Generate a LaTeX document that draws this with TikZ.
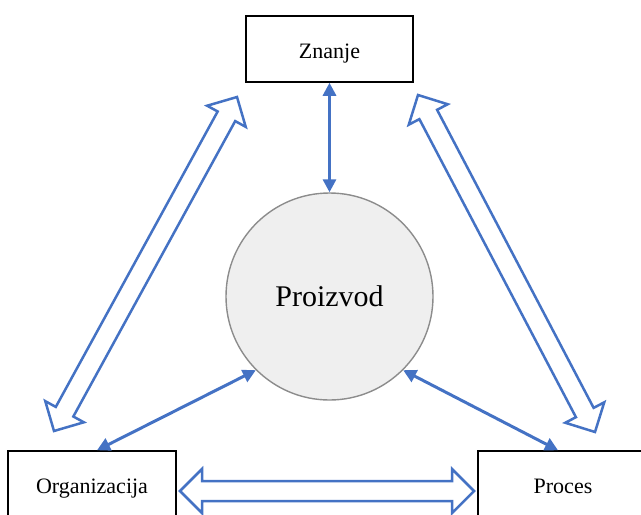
\documentclass[tikz,border=0pt]{standalone}
\usepackage{fontspec}
\setmainfont{Liberation Serif}
\usetikzlibrary{calc,arrows.meta}
\definecolor{ablue}{HTML}{4472C4}
\definecolor{cfill}{HTML}{EFEFEF}
\definecolor{cline}{HTML}{8C8C8C}
\newcommand\hlen{11pt}
\newcommand\hwid{11pt}
\newcommand\swid{5pt}
\newcommand\hollowdbl[2]{%
  \coordinate (ha1) at ($(#1)!\hlen!(#2)$);
  \coordinate (ha2) at ($(#2)!\hlen!(#1)$);
  \draw[hollow] (#1) -- ($(ha1)!\hwid!90:(#2)$) -- ($(ha1)!\swid!90:(#2)$)
    -- ($(ha2)!\swid!-90:(#1)$) -- ($(ha2)!\hwid!-90:(#1)$) -- (#2)
    -- ($(ha2)!\hwid!90:(#1)$) -- ($(ha2)!\swid!90:(#1)$)
    -- ($(ha1)!\swid!-90:(#2)$) -- ($(ha1)!\hwid!-90:(#2)$) -- cycle;}
\tikzset{
  box/.style={draw=black, line width=0.75pt, fill=white, inner sep=0pt,
    minimum height=33pt, text height=10pt, text depth=1pt,
    font=\fontsize{11}{13}\selectfont},
  thinarr/.style={draw=ablue, line width=1.5pt,
    {Triangle[length=6.5pt,width=6.5pt]}-{Triangle[length=6.5pt,width=6.5pt]}},
  hollow/.style={draw=ablue, line width=1.25pt, fill=white, line join=miter}
}
\begin{document}
\begin{tikzpicture}[x=0.5pt,y=-0.5pt]
\useasboundingbox (0,0) rectangle (641,514);
\clip (0,0) rectangle (641,514);
\node[box, minimum width=83.5pt] (zn) at (329.5,49) {Znanje};
\node[box, minimum width=84pt] (org) at (92,484) {Organizacija};
\node[box, minimum width=85pt] (pro) at (563,484) {Proces};
\node[circle, draw=cline, line width=0.7pt, fill=cfill, minimum size=103.5pt,
  inner sep=0pt, text height=11pt, text depth=1pt,
  font=\fontsize{15}{18}\selectfont] (prod) at (329.5,296.5) {Proizvod};
% thin arrows
\coordinate (orgtop) at ([xshift=2.5pt]org.north);
\coordinate (protop) at ([xshift=-2.5pt]pro.north);
\draw[thinarr] (zn.south) -- (prod.north);
\draw[thinarr] (orgtop) -- (prod.-135);
\draw[thinarr] (protop) -- (prod.-45);
% hollow double arrows
\coordinate (la) at (54,431);
\coordinate (lb) at (237,97);
\coordinate (ra) at (418,95);
\coordinate (rb) at (595,432);
\coordinate (ba) at (180,491);
\coordinate (bb) at (474,491);
\hollowdbl{la}{lb}
\hollowdbl{ra}{rb}
\hollowdbl{ba}{bb}
\end{tikzpicture}
\end{document}
